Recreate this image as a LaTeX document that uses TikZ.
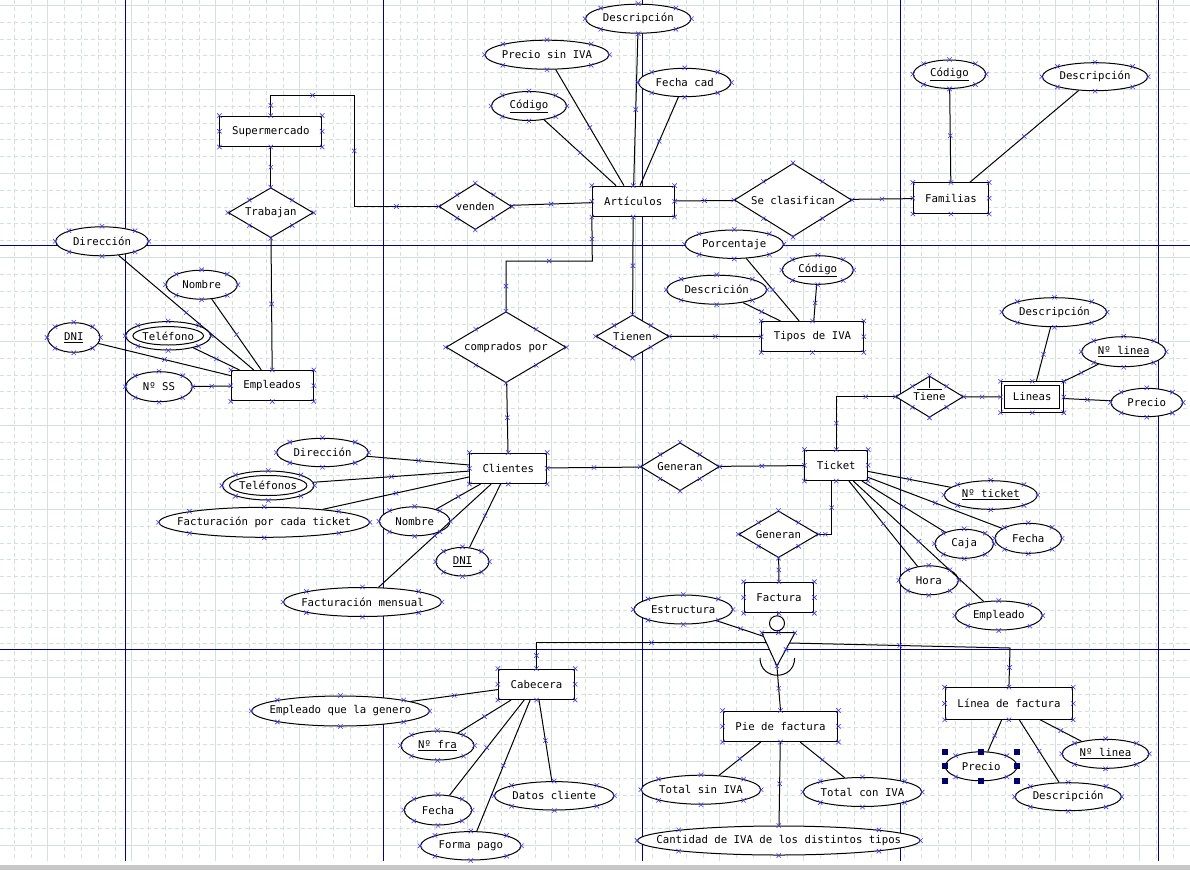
\documentclass[tikz,border=0pt]{standalone}
\usepackage{fontspec}
\setmainfont{DejaVu Sans Mono}
\usepackage{tikz}
\usetikzlibrary{shapes.geometric}
\definecolor{gridgray}{RGB}{212,224,224}
\definecolor{pagenavy}{RGB}{0,0,140}
\definecolor{markblue}{RGB}{60,60,230}
\definecolor{bargray}{RGB}{200,200,200}
\definecolor{handlenavy}{RGB}{0,0,110}
\tikzset{
  txt/.style={font=\fontsize{10.7}{12}\selectfont},
  ent/.style={rectangle,draw,fill=white,line width=1pt,inner sep=0pt,minimum height=30.5pt,txt},
  rel/.style={diamond,draw,fill=white,line width=1pt,inner sep=-20pt,txt},
  attr/.style={ellipse,draw,fill=white,line width=1pt,inner xsep=-30pt,inner ysep=-5pt,minimum height=29pt,txt},
  lk/.style={line width=1pt},
  handle/.style={rectangle,fill=handlenavy,minimum size=6pt,inner sep=0pt},
  xm/.pic={\draw[markblue,line width=0.6pt] (-2.2,-2.2) -- (2.2,2.2) (-2.2,2.2) -- (2.2,-2.2);}
}

\begin{document}
\begin{tikzpicture}[x=1pt,y=-1pt]
\useasboundingbox (0,0) rectangle (1190,870);

% grid and page breaks
\foreach \k in {0,...,70}
  \draw[gridgray,line width=0.8pt,dash pattern=on 4pt off 3pt] ({14.1+16.8*\k},0) -- ({14.1+16.8*\k},861);
\foreach \k in {0,...,50}
  \draw[gridgray,line width=0.8pt,dash pattern=on 4pt off 3pt] (0,{5.3+16.8*\k}) -- (1190,{5.3+16.8*\k});
\foreach \k in {0,...,13}
  \draw[gridgray,line width=0.8pt] ({47.7+84*\k},0) -- ({47.7+84*\k},861);
\foreach \k in {0,...,10}
  \draw[gridgray,line width=0.8pt] (0,{5.3+84*\k}) -- (1190,{5.3+84*\k});
\foreach \x in {125.5,383.3,642.3,900.3,1158.3}
  \draw[pagenavy,line width=1.1pt] (\x,0) -- (\x,861);
\foreach \y in {245.2,649.3}
  \draw[pagenavy,line width=1.1pt] (0,\y) -- (1190,\y);
\fill[bargray] (0,865) rectangle (1190,870);

% entities
\node[ent,minimum width=101.7pt] (sup) at (270.8,131.3) {Supermercado};
\node[ent,minimum width=82pt] (emp) at (272.3,385.7) {Empleados};
\node[ent,minimum width=81.7pt] (art) at (633.2,201.3) {Artículos};
\node[ent,minimum width=75.3pt] (fam) at (951,198.2) {Familias};
\node[ent,minimum width=101.7pt] (tipos) at (812.5,336.7) {Tipos de IVA};
\node[ent,minimum width=76.7pt] (cli) at (508.3,468.3) {Clientes};
\node[ent,minimum width=62.7pt] (tick) at (836.3,465.3) {Ticket};
\node[ent,minimum width=62.3pt] (lin) at (1032.2,397) {Lineas};
\draw[line width=1pt] ([shift={(4.3,4.3)}]lin.north west) rectangle ([shift={(-4.3,-4.3)}]lin.south east);
\node[ent,minimum width=69.7pt] (fact) at (779,597.5) {Factura};
\node[ent,minimum width=76.3pt] (cab) at (536.5,684.3) {Cabecera};
\node[ent,minimum width=114.8pt] (pie) at (780.5,726.3) {Pie de factura};
\node[ent,minimum width=127.6pt,minimum height=31.6pt] (lfac) at (1008.9,703.5) {Línea de factura};

% relationships
\node[rel,minimum width=85pt,minimum height=50pt] (trab) at (270.8,212.7) {Trabajan};
\node[rel,minimum width=72.7pt,minimum height=46pt] (ven) at (475.3,206.5) {venden};
\node[rel,minimum width=117.4pt,minimum height=73.3pt] (secl) at (793,200) {Se clasifican};
\node[rel,minimum width=120pt,minimum height=71pt] (comp) at (506,347.2) {comprados por};
\node[rel,minimum width=73pt,minimum height=42.7pt] (tien) at (632.5,336.3) {Tienen};
\node[rel,minimum width=78.7pt,minimum height=48pt] (gen1) at (680,466.7) {Generan};
\node[rel,minimum width=79.5pt,minimum height=46.7pt] (gen2) at (778.5,534.3) {Generan};
\node[rel,minimum width=67.7pt,minimum height=41.3pt] (tiene) at (929.5,396.7) {Tiene};
\draw[line width=0.8pt] (tiene.north) -- ++(0,12.5);
\draw[line width=0.8pt] (917,389) -- (942,389);

% attributes
\node[attr,minimum width=105.4pt] (aDesc) at (638.3,18.7) {Descripción};
\node[attr,minimum width=124pt] (aPre) at (547,54.7) {Precio sin IVA};
\node[attr,minimum width=92.6pt,minimum height=28.4pt] (aFec) at (684.7,82.5) {Fecha cad};
\node[attr,minimum width=75pt] (aCod) at (529,106) {\underline{Código}};
\node[attr,minimum width=72.4pt,minimum height=28.4pt] (fCod) at (949.5,74.2) {\underline{Código}};
\node[attr,minimum width=105.4pt,minimum height=28pt] (fDesc) at (1095,76.7) {Descripción};
\node[attr,minimum width=92.6pt] (eDir) at (102,241.3) {Dirección};
\node[attr,minimum width=71.4pt] (eNom) at (201.7,284.7) {Nombre};
\node[attr,minimum width=85pt,minimum height=28.4pt] (eTel) at (168.2,335.8) {Teléfono};
\draw[line width=1pt] (eTel.center) ellipse [x radius=35.3pt,y radius=9.2pt];
\node[attr,minimum width=52.4pt,minimum height=29.6pt] (eDni) at (73.8,337.5) {\underline{DNI}};
\node[attr,minimum width=66.6pt,minimum height=30pt] (eSS) at (159,386.7) {Nº SS};
\node[attr,minimum width=98.4pt,minimum height=28.4pt] (tPor) at (734.2,244.2) {Porcentaje};
\node[attr,minimum width=71pt,minimum height=28.6pt] (tCod) at (817.8,270) {\underline{Código}};
\node[attr,minimum width=100pt] (tDesc) at (716.7,289.7) {Descrición};
\node[attr,minimum width=91.6pt,minimum height=28.4pt] (cDir) at (322.5,452.5) {Dirección};
\node[attr,minimum width=91.6pt] (cTel) at (268.2,485.5) {Teléfonos};
\draw[line width=1pt] (cTel.center) ellipse [x radius=38.7pt,y radius=10pt];
\node[attr,minimum width=210.4pt,minimum height=30pt] (cFpt) at (264.2,522.3) {Facturación por cada ticket};
\node[attr,minimum width=70.6pt] (cNom) at (414.7,521.3) {Nombre};
\node[attr,minimum width=53pt,minimum height=28.6pt] (cDni) at (462.5,561.7) {\underline{DNI}};
\node[attr,minimum width=158pt] (cFm) at (362.5,602) {Facturación mensual};
\node[attr,minimum width=104.4pt] (lDesc) at (1054.5,312.2) {Descripción};
\node[attr,minimum width=84pt,minimum height=30pt] (lNum) at (1123.7,351.7) {\underline{Nº linea}};
\node[attr,minimum width=71.6pt,minimum height=28.4pt] (lPre) at (1146.8,402.5) {Precio};
\node[attr,minimum width=93pt,minimum height=28.6pt] (kNum) at (990.8,495) {\underline{Nº ticket}};
\node[attr,minimum width=66.6pt,minimum height=30pt] (kFec) at (1028.3,538.3) {Fecha};
\node[attr,minimum width=58.4pt] (kCaj) at (964.2,543.8) {Caja};
\node[attr,minimum width=59pt] (kHor) at (928.8,580.3) {Hora};
\node[attr,minimum width=87pt] (kEmp) at (998.8,615.5) {Empleado};
\node[attr,minimum width=98.6pt] (est) at (683.2,609.5) {Estructura};
\node[attr,minimum width=119.4pt] (pSin) at (701,789.7) {Total sin IVA};
\node[attr,minimum width=118.6pt] (pCon) at (862.5,792) {Total con IVA};
\node[attr,minimum width=282.4pt] (pCant) at (778.8,840.5) {Cantidad de IVA de los distintos tipos};
\node[attr,minimum width=177.6pt,minimum height=30pt] (bEmp) at (340.5,711) {Empleado que la genero};
\node[attr,minimum width=73pt] (bNum) at (437.5,745.5) {\underline{Nº fra}};
\node[attr,minimum width=119.6pt,minimum height=28.4pt] (bDat) at (554.2,795.8) {Datos cliente};
\node[attr,minimum width=67.4pt,minimum height=30pt] (bFec) at (438,810) {Fecha};
\node[attr,minimum width=100.4pt,minimum height=28.4pt] (bFor) at (470.8,845.8) {Forma pago};
\node[attr,minimum width=71.6pt] (lfPre) at (981.2,766.3) {Precio};
\node[attr,minimum width=86.6pt] (lfNum) at (1105.5,753.8) {\underline{Nº linea}};
\node[attr,minimum width=106.2pt,minimum height=28pt] (lfDesc) at (1068.2,796.7) {Descripción};

% specialisation of Factura
\node[circle,draw,fill=white,line width=1pt,minimum size=15pt,inner sep=0pt] (isac) at (777,623.3) {};
\coordinate (tl) at (761.8,632.7);
\coordinate (tr) at (795,632.7);
\coordinate (tb) at (776.9,666);
\coordinate (te) at (764.5,636.7);
\coordinate (tleft) at (766.3,642.7);
\coordinate (tright) at (789.4,643);
\coordinate (cabup) at (536.5,642.7);
\coordinate (lfup) at (1010,648);
\draw[lk] (fact) -- (isac);
\draw[lk] (isac) -- (isac |- tl);
\draw[lk] (est) -- pic{xm} (te);
\draw[lk] (cab.north) -- pic{xm} (cabup) -- pic{xm} (tleft);
\draw[lk] (tright) -- pic{xm} (lfup) -- pic{xm} (lfac.north);
\draw[lk] (tb) -- pic{xm} (pie.north);
\draw[lk,fill=white] (tl) -- (tr) -- (tb) -- cycle;
\draw[lk] (760,658) .. controls (760,681) and (794.6,681) .. (794.6,658);
\foreach \p in {(tl),(tr),(tb),(778.4,632.7),(786,649.4)}
  \pic at \p {xm};

% connectors
\coordinate (sv1) at (270.8,95.3);
\coordinate (sv2) at (354.3,95.3);
\coordinate (sv3) at (354.3,206.5);
\draw[lk] (sup.north) -- pic{xm} (sv1) -- pic{xm} (sv2) -- pic{xm} (sv3) -- pic{xm} (ven.west);
\coordinate (ac1) at (592.3,261);
\coordinate (ac2) at (506,261);
\draw[lk] (art.south west) -- pic{xm} (ac1) -- pic{xm} (ac2) -- pic{xm} (comp.north);
\coordinate (tt1) at (836.3,396.7);
\draw[lk] (tick.north) -- pic{xm} (tt1) -- pic{xm} (tiene.west);
\coordinate (tg1) at (831.7,534.3);
\draw[lk] (tick.south -| tg1) -- pic{xm} (tg1) -- pic{xm} (gen2.east);
\foreach \s/\t in {sup/trab,trab/emp,ven/art,art/secl,secl/fam,art/tien,tien/tipos,
    comp/cli,cli/gen1,gen1/tick,gen2/fact,tiene/lin}
  \draw[lk] (\s) -- pic{xm} (\t);
\foreach \s/\t in {art/aDesc,art/aPre,art/aFec,art/aCod,fam/fCod,fam/fDesc,
    emp/eDir,emp/eNom,emp/eTel,emp/eDni,emp/eSS,tipos/tPor,tipos/tCod,tipos/tDesc,
    cli/cDir,cli/cTel,cli/cFpt,cli/cNom,cli/cDni,cli/cFm,lin/lDesc,lin/lNum,lin/lPre,
    tick/kNum,tick/kFec,tick/kCaj,tick/kHor,tick/kEmp,pie/pSin,pie/pCon,pie/pCant,
    cab/bEmp,cab/bNum,cab/bDat,cab/bFec,cab/bFor,lfac/lfPre,lfac/lfNum,lfac/lfDesc}
  \draw[lk] (\s) -- pic{xm} (\t);

% anchor marks
\foreach \n in {sup,emp,art,fam,tipos,cli,tick,lin,fact,cab,pie,lfac,
    trab,ven,secl,comp,tien,gen1,gen2,tiene,
    aDesc,aPre,aFec,aCod,fCod,fDesc,eDir,eNom,eTel,eDni,eSS,tPor,tCod,tDesc,
    cDir,cTel,cFpt,cNom,cDni,cFm,lDesc,lNum,lPre,kNum,kFec,kCaj,kHor,kEmp,
    est,pSin,pCon,pCant,bEmp,bNum,bDat,bFec,bFor,lfPre,lfNum,lfDesc}
  \foreach \a in {north,south,east,west,north east,north west,south east,south west}
    \pic at (\n.\a) {xm};

% selection handles
\foreach \hx/\hy [count=\i] in {945.4/751.6,981.2/751.6,1017/751.6,945.4/766.3,
    1017/766.3,945.4/781,981.2/781,1017/781}
  \node[handle] (h\i) at (\hx,\hy) {};

\end{tikzpicture}
\end{document}
